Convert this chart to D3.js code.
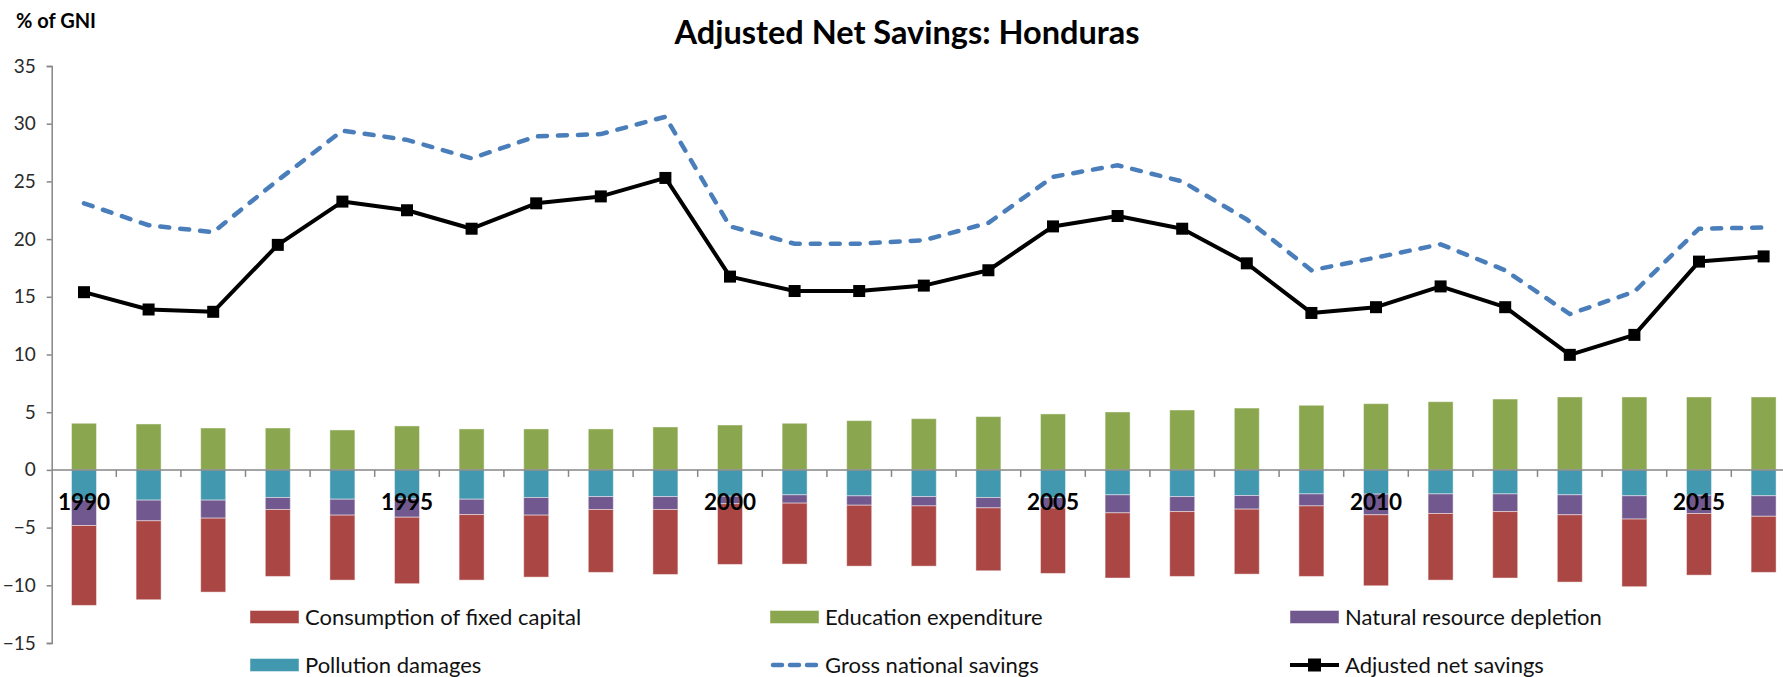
<!DOCTYPE html>
<html>
<head>
<meta charset="utf-8">
<script src="https://cdn.jsdelivr.net/npm/d3@7"></script>
<style>
  body { margin: 0; background: #fff; }
  svg { display: block; font-family: Lato, "Open Sans", sans-serif; }
</style>
</head>
<body>
<svg id="chart" width="1783" height="677"></svg>
<script>
// values (% of GNI)
var years = d3.range(1990, 2017);
var education = [4.04, 3.98, 3.63, 3.63, 3.46, 3.81, 3.55, 3.55, 3.55, 3.72, 3.89, 4.04, 4.27, 4.44,
  4.62, 4.85, 5.02, 5.19, 5.36, 5.60, 5.74, 5.91, 6.14, 6.32, 6.32, 6.32, 6.32];
var pollution = [-2.60, -2.62, -2.62, -2.39, -2.54, -2.50, -2.54, -2.39, -2.31, -2.31, -2.28, -2.16, -2.25, -2.31,
  -2.39, -2.40, -2.16, -2.31, -2.22, -2.08, -2.10, -2.08, -2.08, -2.16, -2.24, -2.20, -2.24];
var depletion = [-2.22, -1.79, -1.56, -1.04, -1.38, -1.60, -1.33, -1.53, -1.12, -1.12, -0.65, -0.72, -0.81, -0.81,
  -0.90, -0.90, -1.56, -1.30, -1.18, -1.04, -1.79, -1.70, -1.53, -1.73, -2.02, -1.58, -1.78];
var fixedCapital = [-6.92, -6.84, -6.41, -5.80, -5.63, -5.76, -5.68, -5.37, -5.45, -5.63, -5.26, -5.28, -5.28, -5.22,
  -5.45, -5.67, -5.65, -5.62, -5.63, -6.11, -6.15, -5.77, -5.76, -5.83, -5.86, -5.34, -4.86];
var grossSavings = [23.1, 21.2, 20.6, 25.1, 29.4, 28.6, 27.0, 28.9, 29.1, 30.6, 21.1, 19.6, 19.6, 19.9,
  21.4, 25.4, 26.4, 25.0, 21.7, 17.3, 18.4, 19.55, 17.3, 13.5, 15.45, 20.9, 21.0];
var adjustedSavings = [15.4, 13.9, 13.7, 19.5, 23.25, 22.5, 20.9, 23.1, 23.7, 25.3, 16.75, 15.5, 15.5, 15.97,
  17.3, 21.1, 22.0, 20.9, 17.9, 13.6, 14.1, 15.9, 14.1, 9.97, 11.7, 18.05, 18.5];
var yTicks = [-15, -10, -5, 0, 5, 10, 15, 20, 25, 30, 35];
var yearLabels = [1990, 1995, 2000, 2005, 2010, 2015];

var barKeys = ['education', 'pollution', 'depletion', 'fixedCapital'];
var barColors = {
  education: '#8aa64f',
  pollution: '#4298af',
  depletion: '#71598f',
  fixedCapital: '#aa4644'
};

(function () {
  'use strict';

  var svg = d3.select('#chart');
  var left = 51.7, step = 64.6;

  var x = d3.scaleBand()
    .domain(years)
    .range([left, left + step * years.length])
    .paddingInner(0.613)
    .paddingOuter(0.3065);
  var y = d3.scaleLinear().domain([-15, 35]).range([643, 66]);

  var rows = years.map(function (yr, i) {
    return {
      year: yr,
      education: education[i],
      pollution: pollution[i],
      depletion: depletion[i],
      fixedCapital: fixedCapital[i]
    };
  });
  var stacked = d3.stack().keys(barKeys).offset(d3.stackOffsetDiverging)(rows);

  // title and unit
  svg.append('text')
    .attr('x', 907).attr('y', 44)
    .attr('text-anchor', 'middle')
    .style('font-weight', 'bold').style('font-size', '32.5px')
    .text('Adjusted Net Savings: Honduras');
  svg.append('text')
    .attr('x', 16).attr('y', 28)
    .style('font-weight', 'bold').style('font-size', '20px')
    .text('% of GNI');

  // bars
  svg.append('g').selectAll('g')
    .data(stacked)
    .join('g')
    .attr('fill', function (s) { return barColors[s.key]; })
    .selectAll('rect')
    .data(function (s) { return s; })
    .join('rect')
    .attr('x', function (d) { return x(d.data.year); })
    .attr('width', x.bandwidth())
    .attr('y', function (d) { return y(Math.max(d[0], d[1])); })
    .attr('height', function (d) { return Math.abs(y(d[0]) - y(d[1])); })
    .attr('stroke', 'rgba(255,255,255,0.45)')
    .attr('stroke-width', 1);

  // y axis
  var yAxis = svg.append('g')
    .attr('transform', 'translate(' + left + ',0)')
    .call(d3.axisLeft(y).tickValues(yTicks).tickSize(5).tickPadding(11));
  yAxis.select('.domain').attr('stroke', '#868686').attr('stroke-width', 1.5);
  yAxis.selectAll('.tick line').attr('stroke', '#868686').attr('stroke-width', 1.5);
  yAxis.selectAll('.tick text')
    .style('font-size', '19px').style('font-family', 'Lato, sans-serif')
    .attr('fill', '#2a2a2a');

  // x axis at zero with ticks between categories
  var xAxis = svg.append('g');
  xAxis.append('line')
    .attr('x1', left).attr('x2', x.range()[1])
    .attr('y1', y(0)).attr('y2', y(0))
    .attr('stroke', '#868686').attr('stroke-width', 1.5);
  xAxis.selectAll('.xtick')
    .data(years.slice(1))
    .join('line')
    .attr('class', 'xtick')
    .attr('x1', function (d) { return x(d) - x.step() * x.paddingInner() / 2; })
    .attr('x2', function (d) { return x(d) - x.step() * x.paddingInner() / 2; })
    .attr('y1', y(0)).attr('y2', y(0) + 7)
    .attr('stroke', '#868686').attr('stroke-width', 1.5);

  // lines
  var line = d3.line()
    .x(function (d, i) { return x(years[i]) + x.bandwidth() / 2; })
    .y(function (d) { return y(d); });

  svg.append('path')
    .datum(grossSavings)
    .attr('d', line)
    .attr('fill', 'none')
    .attr('stroke', '#4a7ebb')
    .attr('stroke-width', 4.5)
    .attr('stroke-linecap', 'round')
    .attr('stroke-dasharray', '9,11');

  svg.append('path')
    .datum(adjustedSavings)
    .attr('d', line)
    .attr('fill', 'none')
    .attr('stroke', '#000')
    .attr('stroke-width', 4)
    .attr('stroke-linejoin', 'round');

  svg.append('g').selectAll('rect')
    .data(adjustedSavings)
    .join('rect')
    .attr('x', function (d, i) { return x(years[i]) + x.bandwidth() / 2 - 6; })
    .attr('y', function (d) { return y(d) - 6; })
    .attr('width', 12).attr('height', 12)
    .attr('fill', '#000');

  // year labels drawn over the bars
  svg.append('g').selectAll('text')
    .data(yearLabels)
    .join('text')
    .attr('x', function (d) { return x(d) + x.bandwidth() / 2; })
    .attr('y', y(0) + 40)
    .attr('text-anchor', 'middle')
    .style('font-weight', 'bold').style('font-size', '22.5px')
    .text(function (d) { return d; });

  // legend
  var legendItems = [
    { label: 'Consumption of fixed capital', type: 'box', color: barColors.fixedCapital, x: 250, y: 617 },
    { label: 'Education expenditure', type: 'box', color: barColors.education, x: 770, y: 617 },
    { label: 'Natural resource depletion', type: 'box', color: barColors.depletion, x: 1290, y: 617 },
    { label: 'Pollution damages', type: 'box', color: barColors.pollution, x: 250, y: 665 },
    { label: 'Gross national savings', type: 'dash', color: '#4a7ebb', x: 770, y: 665 },
    { label: 'Adjusted net savings', type: 'marker', color: '#000', x: 1290, y: 665 }
  ];
  var legend = svg.append('g').selectAll('g')
    .data(legendItems)
    .join('g')
    .attr('transform', function (d) { return 'translate(' + d.x + ',' + d.y + ')'; });

  legend.each(function (d) {
    var g = d3.select(this);
    if (d.type == 'box') {
      g.append('rect')
        .attr('x', 0).attr('y', -6.5).attr('width', 49).attr('height', 13)
        .attr('fill', d.color)
        .attr('stroke', 'rgba(255,255,255,0.45)');
    } else if (d.type == 'dash') {
      g.append('line')
        .attr('x1', 3).attr('x2', 47).attr('y1', 0).attr('y2', 0)
        .attr('stroke', d.color).attr('stroke-width', 4.5)
        .attr('stroke-linecap', 'round')
        .attr('stroke-dasharray', '9,8');
    } else {
      g.append('line')
        .attr('x1', 0).attr('x2', 49).attr('y1', 0).attr('y2', 0)
        .attr('stroke', d.color).attr('stroke-width', 4);
      g.append('rect')
        .attr('x', 18).attr('y', -6.5).attr('width', 13).attr('height', 13)
        .attr('fill', d.color);
    }
    g.append('text')
      .attr('x', 55).attr('y', 0)
      .attr('dy', '0.35em')
      .style('font-size', '22px')
      .attr('fill', '#111')
      .text(d.label);
  });
})();
</script>
</body>
</html>
